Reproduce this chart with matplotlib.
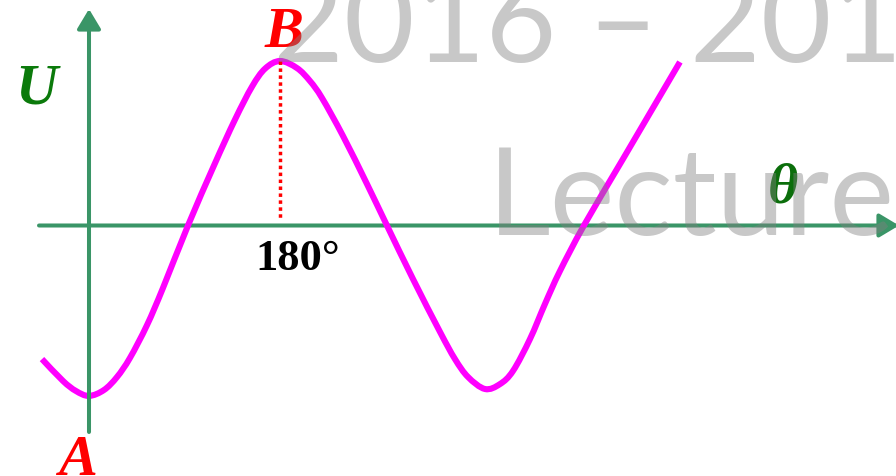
import matplotlib
matplotlib.use('Agg')
import matplotlib.pyplot as plt
from matplotlib.path import Path
from matplotlib.patches import PathPatch

# curve: theta in degrees, U in units of the peak height
theta_deg = [-44.3, -24.5, -12.3, 0.0, 14.1, 26.4, 38.6, 54.7, 69.7, 93.3,
             117.8, 137.6, 153.7, 166.0, 180.0, 196.0, 208.3, 219.6, 239.4,
             262.0, 280.8, 305.3, 330.8, 344.9, 357.2, 373.2, 387.3, 399.6,
             415.6, 429.7, 443.8, 466.4, 503.2, 556.9]
u_vals = [-0.812, -0.945, -1.006, -1.036, -1.000, -0.921, -0.805, -0.605,
          -0.380, 0.0, 0.365, 0.644, 0.845, 0.954, 1.0, 0.957, 0.878, 0.775,
          0.544, 0.252, 0.0, -0.325, -0.647, -0.812, -0.921, -0.994, -0.964,
          -0.884, -0.690, -0.477, -0.277, 0.0, 0.404, 0.994]

peak_theta = 180
peak_u = 1.0
tick_label = "180°"
watermark_lines = ["2016 – 2017", "Lecture"]

W, H = 896, 477
X0, Y0 = 89, 226.5          # pixel position of the origin
SX, SY = 191 / 180, 164.5    # pixels per degree, pixels per unit of U


def px(x, y):
    """figure pixel -> axes fraction (axes fill the whole figure)"""
    return x / W, 1 - y / H


def smooth_path(xs, ys):
    # catmull-rom through the read points, handed to matplotlib as cubic beziers
    pts = list(zip(xs, ys))
    n = len(pts)
    verts = [pts[0]]
    codes = [Path.MOVETO]
    for i in range(n - 1):
        p0 = pts[max(i - 1, 0)]
        p1 = pts[i]
        p2 = pts[i + 1]
        p3 = pts[min(i + 2, n - 1)]
        c1 = (p1[0] + (p2[0] - p0[0]) / 6, p1[1] + (p2[1] - p0[1]) / 6)
        c2 = (p2[0] - (p3[0] - p1[0]) / 6, p2[1] - (p3[1] - p1[1]) / 6)
        verts += [c1, c2, p2]
        codes += [Path.CURVE4] * 3
    return Path(verts, codes)


fig = plt.figure(figsize=(W / 100, H / 100), dpi=100)
ax = fig.add_axes([0, 0, 1, 1])
ax.set_xlim(-X0 / SX, (W - X0) / SX)
ax.set_ylim((Y0 - H) / SY, Y0 / SY)
ax.axis('off')

axis_col = '#3A9567'
arrow = dict(arrowstyle='-|>,head_length=0.4,head_width=0.24',
             mutation_scale=30, color=axis_col, lw=2.9,
             shrinkA=0, shrinkB=0)

# horizontal axis (under the curve)
ax.annotate('', xy=((899 - X0) / SX, 0), xytext=((39 - X0) / SX, 0),
            arrowprops=dict(arrow, zorder=1), zorder=1,
            annotation_clip=False)

ax.add_patch(PathPatch(smooth_path(theta_deg, u_vals), fill=False,
                       edgecolor='#FF00FF', lw=4.4, capstyle='butt',
                       joinstyle='round', zorder=2))

# vertical axis (over the curve)
ax.annotate('', xy=(0, (Y0 - 10) / SY), xytext=(0, (Y0 - 433) / SY),
            arrowprops=dict(arrow, zorder=3), zorder=3,
            annotation_clip=False)

# dotted drop line from B
ax.plot([peak_theta, peak_theta], [peak_u, 0.04], color='red', lw=2.5,
        linestyle=(0, (1, 1)), zorder=4)

serif = dict(family='Liberation Serif', weight='bold', style='italic')
ax.text(*px(36, 103), 'U', transform=ax.transAxes, fontsize=42,
        color='#0B7A0B', ha='center', va='baseline', **serif)
ax.text(*px(284, 47), 'B', transform=ax.transAxes, fontsize=42,
        color='red', ha='center', va='baseline', **serif)
ax.text(*px(77, 475), 'A', transform=ax.transAxes, fontsize=42,
        color='red', ha='center', va='baseline', **serif)
ax.text(*px(783, 203), 'θ', transform=ax.transAxes, fontsize=42,
        color='#0B6E0B', ha='center', va='baseline', **serif)
ax.text(*px(255, 270), tick_label, transform=ax.transAxes, fontsize=32,
        color='black', ha='left', va='baseline',
        family='Liberation Serif', weight='bold')

# grey watermark on top
wm = dict(transform=ax.transAxes, fontsize=88, family='Lato',
          color='#808080', alpha=0.43, ha='left', va='baseline', zorder=10)
ax.text(*px(273, 62), watermark_lines[0], **wm)
ax.text(*px(488, 235), watermark_lines[1], **wm)

fig.savefig('out.png', dpi=100)
